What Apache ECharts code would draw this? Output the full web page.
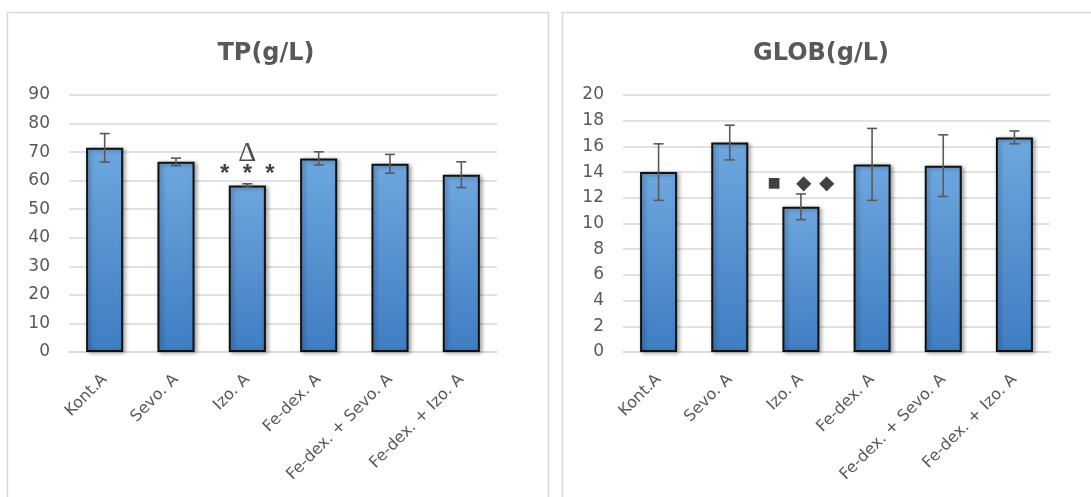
<!DOCTYPE html>
<html>
<head>
<meta charset="utf-8">
<script src="https://cdn.jsdelivr.net/npm/echarts@6/dist/echarts.min.js"></script>
<style>
html,body{margin:0;padding:0;background:#fff;}
#c{width:1091px;height:497px;}
</style>
</head>
<body>
<div id="c"></div>
<script>
const categories = ['Kont.A', 'Sevo. A', 'Izo. A', 'Fe-dex. A', 'Fe-dex. + Sevo. A', 'Fe-dex. + Izo. A'];
const tpMean = [71.5, 66.6, 58.3, 67.8, 65.9, 62.1];
const tpErr = [5.0, 1.3, 0.6, 2.3, 3.3, 4.5];
const globMean = [14.0, 16.3, 11.3, 14.6, 14.5, 16.7];
const globErr = [2.2, 1.35, 1.0, 2.8, 2.4, 0.5];
const titles = ['TP(g/L)', 'GLOB(g/L)'];
const tpAxis = {min: 0, max: 90, interval: 10};
const globAxis = {min: 0, max: 20, interval: 2};
// annotations: [categoryIndex, value, text]
const tpNotes = [[2, 69.6, 'Δ'], [2, 62.2, '*  *  *']];
const globNotes = [[2, 13.1, '{s|■}   {d|◆}{w| }{d|◆}']];

const FONT = 'DejaVu Sans';
const grey = '#595959';

const barStyle = {
  color: new echarts.graphic.LinearGradient(0, 0, 0, 1, [
    {offset: 0, color: '#6ea7df'},
    {offset: 1, color: '#3f7dc2'}
  ]),
  borderColor: '#111',
  borderWidth: 2,
  shadowBlur: 4,
  shadowOffsetX: 2,
  shadowOffsetY: 1,
  shadowColor: 'rgba(0,0,0,0.35)'
};

function errRender(params, api) {
  const x = api.value(0), m = api.value(1), e = api.value(2);
  const t = api.coord([x, m + e]);
  const b = api.coord([x, m - e]);
  const hw = 5;
  const st = {stroke: grey, lineWidth: 1.6};
  return {
    type: 'group',
    children: [
      {type: 'line', shape: {x1: t[0], y1: t[1], x2: b[0], y2: b[1]}, style: st},
      {type: 'line', shape: {x1: t[0] - hw, y1: t[1], x2: t[0] + hw, y2: t[1]}, style: st},
      {type: 'line', shape: {x1: b[0] - hw, y1: b[1], x2: b[0] + hw, y2: b[1]}, style: st}
    ]
  };
}

function xAxis(gi) {
  return {
    type: 'category', gridIndex: gi, data: categories,
    axisTick: {show: false},
    axisLine: {lineStyle: {color: '#d9d9d9', width: 1.5}},
    axisLabel: {rotate: 45, color: grey, fontFamily: FONT, fontSize: 16, margin: 25, interval: 0}
  };
}
function yAxis(gi, ax) {
  return {
    type: 'value', gridIndex: gi, min: ax.min, max: ax.max, interval: ax.interval,
    axisLine: {show: false}, axisTick: {show: false},
    splitLine: {lineStyle: {color: '#d9d9d9', width: 1.5}},
    axisLabel: {color: grey, fontFamily: FONT, fontSize: 17, margin: 19}
  };
}

function noteSeries(gi, notes, styleFor) {
  return {
    type: 'scatter', xAxisIndex: gi, yAxisIndex: gi,
    symbolSize: 1, itemStyle: {color: 'rgba(0,0,0,0)'}, silent: true, z: 5,
    data: notes.map(n => ({value: [n[0], n[1]], label: Object.assign({show: true, position: 'inside', formatter: n[2]}, styleFor(n[2]))}))
  };
}

const chart = echarts.init(document.getElementById('c'), null, {renderer: 'canvas'});
chart.setOption({
  backgroundColor: '#fff',
  animation: false,
  title: [
    {text: titles[0], left: 261, top: 37, textAlign: 'center', textStyle: {fontFamily: FONT, fontWeight: 'bold', fontSize: 24, color: grey}},
    {text: titles[1], left: 816, top: 37, textAlign: 'center', textStyle: {fontFamily: FONT, fontWeight: 'bold', fontSize: 24, color: grey}}
  ],
  graphic: [
    {type: 'rect', shape: {x: 7.5, y: 12.5, width: 541, height: 500}, style: {fill: 'none', stroke: '#d9d9d9', lineWidth: 1.5}, silent: true},
    {type: 'rect', shape: {x: 562.5, y: 12.5, width: 540, height: 500}, style: {fill: 'none', stroke: '#d9d9d9', lineWidth: 1.5}, silent: true}
  ],
  grid: [
    {left: 69, right: 1091 - 497, top: 95, bottom: 497 - 352},
    {left: 623, right: 1091 - 1050, top: 95, bottom: 497 - 352}
  ],
  xAxis: [xAxis(0), xAxis(1)],
  yAxis: [yAxis(0, tpAxis), yAxis(1, globAxis)],
  series: [
    {type: 'bar', xAxisIndex: 0, yAxisIndex: 0, data: tpMean, barWidth: '52%', itemStyle: barStyle},
    {type: 'custom', xAxisIndex: 0, yAxisIndex: 0, renderItem: errRender, z: 4,
     data: categories.map((c, i) => [i, tpMean[i], tpErr[i]])},
    {type: 'bar', xAxisIndex: 1, yAxisIndex: 1, data: globMean, barWidth: '52%', itemStyle: barStyle},
    {type: 'custom', xAxisIndex: 1, yAxisIndex: 1, renderItem: errRender, z: 4,
     data: categories.map((c, i) => [i, globMean[i], globErr[i]])},
    noteSeries(0, tpNotes, t => t === 'Δ'
      ? {fontFamily: 'Liberation Serif', fontSize: 28, color: '#222'}
      : {fontFamily: 'Liberation Sans', fontSize: 24, fontWeight: 'bold', color: '#111'}),
    noteSeries(1, globNotes, t => ({fontFamily: 'DejaVu Sans', fontSize: 16, color: '#111',
      rich: {
        s: {fontFamily: 'DejaVu Sans', fontSize: 14, color: '#111'},
        d: {fontFamily: 'DejaVu Sans', fontSize: 20, color: '#111'},
        w: {fontFamily: 'DejaVu Sans', fontSize: 24, color: '#111'}
      }}))
  ]
});
</script>
</body>
</html>
